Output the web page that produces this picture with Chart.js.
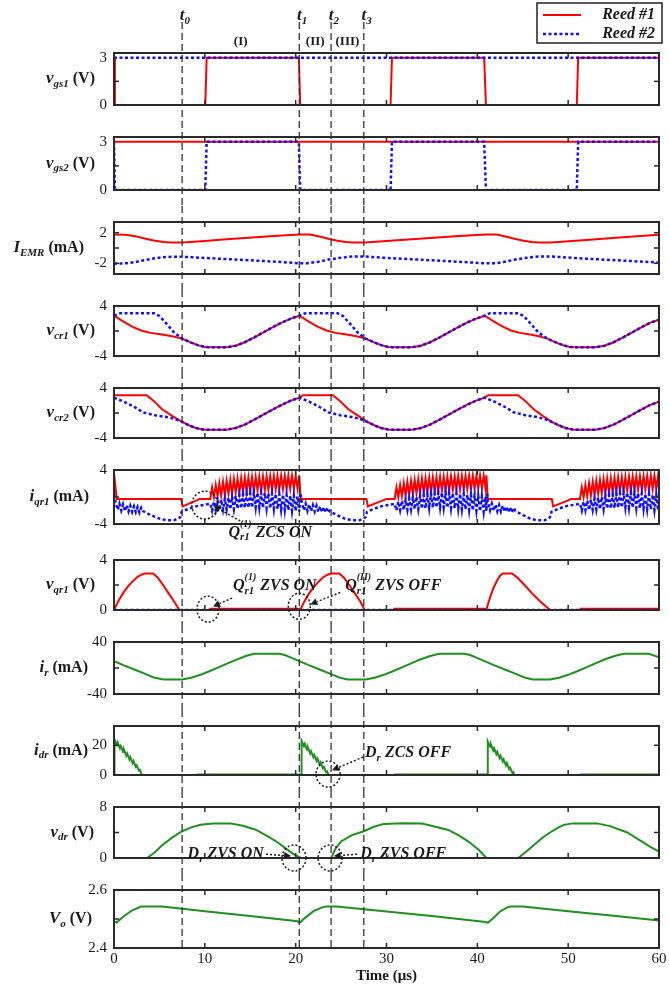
<!DOCTYPE html>
<html>
<head>
<meta charset="utf-8">
<script src="https://cdn.jsdelivr.net/npm/chart.js@4.4.1/dist/chart.umd.min.js"></script>
<style>
  html, body { margin: 0; padding: 0; background: #fff; }
  #wrap { position: relative; width: 669px; height: 990px; overflow: hidden; }
  #wrap canvas { position: absolute; left: 0; }
</style>
</head>
<body>
<div id="wrap"></div>
<script>
// ---- data (time in µs, value in panel units) ----
const T_MARKS = [7.5, 20.4, 23.9, 27.5];
const T_NAMES = ['0', '1', '2', '3'];
const REGIONS = ['(I)', '(II)', '(III)'];
const X_TICKS = [0, 10, 20, 30, 40, 50, 60];
const SERIES_NAMES = ['Reed #1', 'Reed #2'];

const vgs1Red = [[0,3],[0.1,0],[10.05,0],[10.2,3],[20.35,3],[20.5,0],[30.45,0],[30.6,3],[40.75,3],[40.95,0],[50.95,0],[51.1,3],[60,3]];
const vgs1Blue = [[0,3],[60,3]];
const vgs2Red = [[0,3],[60,3]];
const vgs2Blue = [[0,3],[0.1,0],[10.05,0],[10.2,3],[20.35,3],[20.5,0],[30.45,0],[30.6,3],[40.75,3],[40.95,0],[50.95,0],[51.1,3],[60,3]];

const iemrRed = [[0,1.75],[1.3,1.72],[2.5,1.5],[3.5,1.2],[4.5,0.95],[5.5,0.78],[6.3,0.72],[7.5,0.72],[10,0.93],[12,1.1],[14,1.27],[16,1.43],[18,1.6],[20.4,1.78],[21.6,1.75],[22.6,1.5],[23.6,1.2],[24.6,0.95],[25.5,0.78],[26.3,0.72],[27.6,0.72],[30,0.92],[34,1.25],[38,1.58],[40.9,1.78],[42.1,1.75],[43.1,1.5],[44.1,1.2],[45.1,0.95],[46,0.78],[46.8,0.72],[48.1,0.72],[52,1.05],[56,1.4],[60,1.72]];
const iemrBlue = [[0,-2.05],[1.3,-2.0],[2.5,-1.8],[3.5,-1.55],[4.5,-1.35],[5.5,-1.2],[6.3,-1.15],[7.5,-1.15],[10,-1.3],[14,-1.55],[18,-1.8],[20.4,-2.0],[21.3,-2.0],[22.5,-1.8],[23.5,-1.55],[24.5,-1.35],[25.5,-1.2],[26.3,-1.12],[27.7,-1.12],[30,-1.3],[34,-1.55],[38,-1.8],[40.9,-2.0],[42,-2.0],[43,-1.8],[44,-1.55],[45,-1.35],[46,-1.2],[46.8,-1.12],[48.2,-1.12],[52,-1.4],[56,-1.65],[60,-1.9]];

const vcr1Red = [[0,2.45],[1,1.55],[2,0.7],[3,0.08],[4,-0.3],[5.3,-0.57],[6.4,-0.85],[7.5,-1.22],[8.5,-1.85],[9.3,-2.3],[10,-2.55],[10.5,-2.6],[12.4,-2.6],[13.4,-2.35],[14.4,-1.8],[15.4,-1.05],[16.4,-0.25],[17.4,0.55],[18.4,1.3],[19.4,1.95],[20.4,2.45],[21.4,1.55],[22.4,0.7],[23.4,0.08],[24.4,-0.3],[25.6,-0.57],[26.7,-0.85],[27.7,-1.22],[28.7,-1.85],[29.5,-2.3],[30.2,-2.55],[30.7,-2.6],[32.8,-2.6],[33.8,-2.35],[34.8,-1.8],[35.8,-1.05],[36.8,-0.25],[37.8,0.55],[38.8,1.3],[39.8,1.95],[40.8,2.45],[41.8,1.55],[42.8,0.7],[43.7,0.08],[44.7,-0.3],[45.8,-0.57],[46.8,-0.85],[47.7,-1.22],[48.7,-1.85],[49.5,-2.3],[50.2,-2.55],[50.7,-2.6],[53,-2.6],[54,-2.35],[55,-1.8],[56,-1.05],[57,-0.25],[58,0.55],[59,1.3],[60,1.8]];
const vcr1Blue = [[0,2.45],[0.7,2.85],[4.4,2.85],[5.0,2.4],[5.7,1.3],[6.6,-0.2],[7.5,-1.22],[8.5,-1.85],[9.3,-2.3],[10,-2.55],[10.5,-2.6],[12.4,-2.6],[13.4,-2.35],[14.4,-1.8],[15.4,-1.05],[16.4,-0.25],[17.4,0.55],[18.4,1.3],[19.4,1.95],[20.4,2.45],[21.1,2.85],[24.6,2.85],[25.2,2.4],[25.9,1.3],[26.8,-0.2],[27.7,-1.22],[28.7,-1.85],[29.5,-2.3],[30.2,-2.55],[30.7,-2.6],[32.8,-2.6],[33.8,-2.35],[34.8,-1.8],[35.8,-1.05],[36.8,-0.25],[37.8,0.55],[38.8,1.3],[39.8,1.95],[40.8,2.45],[41.4,2.85],[44.5,2.85],[45.1,2.4],[45.8,1.3],[46.7,-0.2],[47.7,-1.22],[48.7,-1.85],[49.5,-2.3],[50.2,-2.55],[50.7,-2.6],[53,-2.6],[54,-2.35],[55,-1.8],[56,-1.05],[57,-0.25],[58,0.55],[59,1.3],[60,1.8]];

const vcr2Red = [[0,2.84],[3.6,2.84],[4.4,1.9],[5.3,0.6],[6.4,-0.45],[7.5,-1.43],[8.3,-2.0],[9,-2.4],[9.8,-2.65],[10.3,-2.67],[12.4,-2.67],[13.4,-2.4],[14.4,-1.85],[15.4,-1.1],[16.4,-0.3],[17.4,0.5],[18.4,1.25],[19.4,1.95],[20.4,2.45],[20.8,2.84],[24.1,2.84],[24.9,1.9],[25.8,0.6],[26.9,-0.45],[27.9,-1.43],[28.7,-2.0],[29.4,-2.4],[30.2,-2.65],[30.7,-2.67],[32.8,-2.67],[33.8,-2.4],[34.8,-1.85],[35.8,-1.1],[36.8,-0.3],[37.8,0.5],[38.8,1.25],[39.8,1.95],[40.8,2.45],[41.2,2.84],[44.5,2.84],[45.3,1.9],[46.2,0.6],[47.2,-0.45],[48.2,-1.43],[49,-2.0],[49.7,-2.4],[50.5,-2.65],[51,-2.67],[53,-2.67],[54,-2.4],[55,-1.85],[56,-1.1],[57,-0.3],[58,0.5],[59,1.25],[60,1.8]];
const vcr2Blue = [[0,2.45],[1.1,1.8],[2.2,1.0],[3.2,0.1],[4.5,-0.35],[5.8,-0.65],[6.7,-0.95],[7.5,-1.43],[8.3,-2.0],[9,-2.4],[9.8,-2.65],[10.3,-2.67],[12.4,-2.67],[13.4,-2.4],[14.4,-1.85],[15.4,-1.1],[16.4,-0.3],[17.4,0.5],[18.4,1.25],[19.4,1.95],[20.4,2.45],[21.5,1.8],[22.6,1.0],[23.6,0.1],[24.9,-0.35],[26.2,-0.65],[27.1,-0.95],[27.9,-1.43],[28.7,-2.0],[29.4,-2.4],[30.2,-2.65],[30.7,-2.67],[32.8,-2.67],[33.8,-2.4],[34.8,-1.85],[35.8,-1.1],[36.8,-0.3],[37.8,0.5],[38.8,1.25],[39.8,1.95],[40.8,2.45],[41.9,1.8],[43,1.0],[44,0.1],[45.3,-0.35],[46.6,-0.65],[47.4,-0.95],[48.2,-1.43],[49,-2.0],[49.7,-2.4],[50.5,-2.65],[51,-2.67],[53,-2.67],[54,-2.4],[55,-1.85],[56,-1.1],[57,-0.3],[58,0.5],[59,1.25],[60,1.8]];

const iqr1Red = [[0,3.6],[0.3,-0.3],[7.4,-0.3],[7.55,-1.4],[9.1,-0.5],[9.4,-0.3],
  [10.6,-0.3],[10.8,1.45],[11.0,-0.05],[11.2,1.8],[11.4,0.1],[11.6,2.05],[11.8,0.2],[12.0,2.25],[12.2,0.3],[12.4,2.4],[12.6,0.45],[12.8,2.55],[13.0,0.5],[13.2,2.65],[13.4,0.6],[13.6,2.75],[13.8,0.65],[14.0,2.8],[14.2,0.72],[14.4,2.88],[14.6,0.78],[14.8,2.92],[15.0,0.85],[15.2,2.96],[15.4,0.88],[15.6,3.0],[15.8,0.92],[16.0,3.02],[16.2,0.96],[16.4,3.05],[16.6,1.0],[16.8,3.08],[17.0,1.04],[17.2,3.1],[17.4,1.08],[17.6,3.12],[17.8,1.1],[18.0,3.14],[18.2,1.13],[18.4,3.15],[18.6,1.16],[18.8,3.17],[19.0,1.2],[19.2,3.18],[19.4,1.22],[19.6,3.19],[19.8,1.25],[20.0,3.2],[20.2,1.28],[20.4,3.2],
  [20.55,-0.3],[27.8,-0.3],[27.95,-1.4],[29.6,-0.5],[30.0,-0.3],
  [30.9,-0.3],[31.1,1.45],[31.3,-0.05],[31.5,1.8],[31.7,0.1],[31.9,2.05],[32.1,0.2],[32.3,2.25],[32.5,0.3],[32.7,2.4],[32.9,0.45],[33.1,2.55],[33.3,0.5],[33.5,2.65],[33.7,0.6],[33.9,2.75],[34.1,0.65],[34.3,2.8],[34.5,0.72],[34.7,2.88],[34.9,0.78],[35.1,2.92],[35.3,0.85],[35.5,2.96],[35.7,0.88],[35.9,3.0],[36.1,0.92],[36.3,3.02],[36.5,0.96],[36.7,3.05],[36.9,1.0],[37.1,3.08],[37.3,1.04],[37.5,3.1],[37.7,1.08],[37.9,3.12],[38.1,1.1],[38.3,3.14],[38.5,1.13],[38.7,3.15],[38.9,1.16],[39.1,3.17],[39.3,1.2],[39.5,3.18],[39.7,1.22],[39.9,3.19],[40.1,1.25],[40.3,3.2],[40.5,1.28],[40.7,3.2],[40.9,1.3],[41.0,3.2],
  [41.15,-0.3],[48.2,-0.3],[48.35,-1.4],[50.0,-0.5],[50.3,-0.3],
  [51.3,-0.3],[51.5,1.45],[51.7,-0.05],[51.9,1.8],[52.1,0.1],[52.3,2.05],[52.5,0.2],[52.7,2.25],[52.9,0.3],[53.1,2.4],[53.3,0.45],[53.5,2.55],[53.7,0.5],[53.9,2.65],[54.1,0.6],[54.3,2.75],[54.5,0.65],[54.7,2.8],[54.9,0.72],[55.1,2.88],[55.3,0.78],[55.5,2.92],[55.7,0.85],[55.9,2.96],[56.1,0.88],[56.3,3.0],[56.5,0.92],[56.7,3.02],[56.9,0.96],[57.1,3.05],[57.3,1.0],[57.5,3.08],[57.7,1.04],[57.9,3.1],[58.1,1.08],[58.3,3.12],[58.5,1.1],[58.7,3.14],[58.9,1.13],[59.1,3.15],[59.3,1.16],[59.5,3.17],[59.7,1.2],[59.9,3.18],[60,1.22]];
const iqr1Blue = [[0,0.4],[0.2,-0.9],[0.4,-1.9],[0.6,-1.0],[0.8,-2.0],[1.0,-1.1],[1.2,-2.1],[1.4,-1.2],[1.6,-2.15],[1.8,-1.3],[2.0,-2.2],[2.2,-1.4],[2.4,-2.25],[2.6,-1.5],[2.8,-2.3],[3.0,-1.6],[3.2,-2.1],
  [4.0,-2.65],[5.0,-3.2],[5.8,-3.45],[6.6,-3.45],[7.3,-3.0],[7.45,-2.2],[8.3,-1.7],[9.1,-1.35],[10.6,-1.0],
  [10.8,-2.0],[11.0,-0.7],[11.2,-1.95],[11.4,-0.55],[11.6,-1.92],[11.8,-0.4],[12.0,-1.88],[12.2,-0.25],[12.4,-1.84],[12.6,-0.1],[12.8,-1.8],[13.0,0.02],[13.2,-1.76],[13.4,0.14],[13.6,-1.72],[13.8,0.25],[14.0,-1.67],[14.2,0.35],[14.4,-1.62],[14.6,0.44],[14.8,-1.58],[15.0,0.52],[15.2,-1.55],[15.4,0.6],[15.6,-1.52],[15.8,0.64],[16.0,-1.54],[16.2,0.62],[16.4,-1.58],[16.6,0.58],[16.8,-1.62],[17.0,0.54],[17.2,-1.67],[17.4,0.5],[17.6,-1.72],[17.8,0.45],[18.0,-1.78],[18.2,0.4],[18.4,-1.84],[18.6,0.34],[18.8,-1.9],[19.0,0.28],[19.2,-1.96],[19.4,0.22],[19.6,-2.02],[19.8,0.16],[20.0,-2.08],[20.2,0.1],[20.4,-2.15],[20.5,0.6],
  [20.7,-0.9],[20.9,-1.95],[21.1,-1.0],[21.3,-2.05],[21.5,-1.1],[21.7,-2.1],[21.9,-1.2],[22.1,-2.15],[22.3,-1.3],[22.5,-2.2],[22.7,-1.4],[22.9,-2.25],[23.1,-1.5],[23.3,-2.3],[23.5,-1.6],[23.7,-2.1],
  [24.5,-2.65],[25.4,-3.2],[26.2,-3.45],[27.0,-3.45],[27.7,-3.0],[27.85,-2.2],[28.7,-1.7],[29.5,-1.35],[30.9,-1.0],
  [31.1,-2.0],[31.3,-0.7],[31.5,-1.95],[31.7,-0.55],[31.9,-1.92],[32.1,-0.4],[32.3,-1.88],[32.5,-0.25],[32.7,-1.84],[32.9,-0.1],[33.1,-1.8],[33.3,0.02],[33.5,-1.76],[33.7,0.14],[33.9,-1.72],[34.1,0.25],[34.3,-1.67],[34.5,0.35],[34.7,-1.62],[34.9,0.44],[35.1,-1.58],[35.3,0.52],[35.5,-1.55],[35.7,0.6],[35.9,-1.52],[36.1,0.64],[36.3,-1.54],[36.5,0.62],[36.7,-1.58],[36.9,0.58],[37.1,-1.62],[37.3,0.54],[37.5,-1.67],[37.7,0.5],[37.9,-1.72],[38.1,0.45],[38.3,-1.78],[38.5,0.4],[38.7,-1.84],[38.9,0.34],[39.1,-1.9],[39.3,0.28],[39.5,-1.96],[39.7,0.22],[39.9,-2.02],[40.1,0.16],[40.3,-2.08],[40.5,0.1],[40.7,-2.15],[40.9,0.05],[41.0,-2.1],[41.05,0.6],
  [41.2,-0.9],[41.4,-1.95],[41.6,-1.0],[41.8,-2.05],[42.0,-1.1],[42.2,-2.1],[42.4,-1.2],[42.6,-2.15],[42.8,-1.3],[43.0,-2.2],[43.2,-1.4],[43.4,-2.25],[43.6,-1.5],[43.8,-2.3],[44.0,-1.6],[44.2,-2.1],
  [45.0,-2.65],[45.8,-3.2],[46.6,-3.45],[47.4,-3.45],[48.0,-3.0],[48.15,-2.2],[49.0,-1.7],[49.8,-1.35],[51.3,-1.0],
  [51.5,-2.0],[51.7,-0.7],[51.9,-1.95],[52.1,-0.55],[52.3,-1.92],[52.5,-0.4],[52.7,-1.88],[52.9,-0.25],[53.1,-1.84],[53.3,-0.1],[53.5,-1.8],[53.7,0.02],[53.9,-1.76],[54.1,0.14],[54.3,-1.72],[54.5,0.25],[54.7,-1.67],[54.9,0.35],[55.1,-1.62],[55.3,0.44],[55.5,-1.58],[55.7,0.52],[55.9,-1.55],[56.1,0.6],[56.3,-1.52],[56.5,0.64],[56.7,-1.54],[56.9,0.62],[57.1,-1.58],[57.3,0.58],[57.5,-1.62],[57.7,0.54],[57.9,-1.67],[58.1,0.5],[58.3,-1.72],[58.5,0.45],[58.7,-1.78],[58.9,0.4],[59.1,-1.84],[59.3,0.34],[59.5,-1.9],[59.7,0.28],[59.9,-1.96],[60,0.2]];

const vqr1Red = [[0,0],[0.5,0.75],[1,1.35],[1.5,1.85],[2,2.25],[2.5,2.6],[3,2.82],[3.4,2.92],[4.3,2.92],[4.8,2.6],[5.4,2.0],[6,1.35],[6.6,0.7],[7.2,0],[10.55,0],[10.6,0.1],[20.4,0.1],[20.5,0],[21,0.75],[21.5,1.35],[22,1.85],[22.5,2.25],[23,2.6],[23.5,2.82],[23.9,2.92],[24.8,2.92],[25.3,2.6],[25.9,2.0],[26.5,1.35],[27.1,0.7],[27.6,0],[30.8,0],[30.85,0.1],[40.95,0.1],[41.0,0.05],[41.4,1.0],[41.8,1.8],[42.2,2.4],[42.5,2.75],[42.8,2.92],[43.8,2.92],[44.4,2.6],[45.2,2.0],[46,1.35],[46.9,0.7],[48,0],[51.3,0],[51.35,0.1],[60,0.1]];
const vqr1Blue = [[0,0],[60,0]];

const irPts = [[0,10.5],[1.1,4],[2.1,-1.5],[3.5,-9.5],[4.4,-14.5],[5.3,-17.2],[5.6,-17.7],[7.5,-17.7],[8.5,-15],[9.5,-10.5],[10.5,-5],[11.5,1],[12.5,7],[13.5,13],[14.5,18.5],[15.4,22],[18.2,22],[18.8,20],[19.5,16],[20.4,10.5],[21.5,4],[22.5,-1.5],[23.9,-9.5],[24.8,-14.5],[25.7,-17.7],[27.7,-17.7],[28.7,-15],[29.7,-10.5],[30.7,-5],[31.7,1],[32.7,7],[33.7,13],[34.8,18.5],[35.8,22],[38.6,22],[39.2,20],[39.9,16],[40.8,10.5],[41.9,4],[42.9,-1.5],[44.3,-9.5],[45.2,-14.5],[46.1,-17.7],[48.0,-17.7],[49,-15],[50,-10.5],[51,-5],[52,1],[53,7],[54,13],[55.1,18.5],[56.1,22],[58.9,22],[60,16.5]];

const idrPts = [[0,0],[0.05,24],[0.3,20.5],[0.4,22],[0.65,18],[0.75,19.5],[1.0,15.5],[1.1,17],[1.35,13],[1.45,14.5],[1.7,10.5],[1.8,12],[2.05,8],[2.15,9.5],[2.4,5.5],[2.5,6.5],[2.75,3],[2.85,3.5],[3.05,0.3],[3.3,0],[9.1,0],[9.2,0.3],[20.5,0.3],[20.6,0],[20.65,23],[20.9,19.5],[21.0,21],[21.25,17],[21.35,18.5],[21.6,14.5],[21.7,16],[21.95,12],[22.05,13.5],[22.3,9.5],[22.4,11],[22.65,7],[22.75,8.5],[23.0,4.5],[23.1,5.5],[23.35,2],[23.45,2.5],[23.65,0],[30.8,0],[30.9,0.3],[41.0,0.3],[41.1,0],[41.15,22.5],[41.4,19],[41.5,20.5],[41.75,16.5],[41.85,18],[42.1,14],[42.2,15.5],[42.45,11.5],[42.55,13],[42.8,9],[42.9,10.5],[43.15,6.5],[43.25,8],[43.5,4],[43.6,5],[43.85,1.5],[43.95,2],[44.1,0],[51.3,0],[51.4,0.3],[60,0.3]];

const vdrPts = [[0,0],[3.65,0],[4.5,0.9],[5.3,2.0],[6.4,3.2],[7.5,4.2],[8.5,4.8],[9.5,5.2],[10.9,5.43],[12.8,5.43],[14.2,5.05],[15.6,4.44],[16.8,3.5],[18,2.47],[19,1.4],[19.9,0.5],[20.6,0],[23.9,0],[24.4,1.5],[25,2.6],[26.2,3.6],[27.5,4.2],[28.6,4.9],[29.7,5.35],[31.8,5.45],[33.9,5.4],[35.4,4.9],[36.8,4.4],[38,3.5],[39.1,2.5],[40.2,1.2],[41,0],[44.5,0],[45.3,0.9],[46.2,2.0],[47.1,3.1],[48,4.0],[48.8,4.7],[49.5,5.2],[50.5,5.43],[53.2,5.43],[54.6,5.0],[56.5,4.0],[58,2.7],[59,1.8],[60,1.0]];

const voPts = [[0,2.492],[0.3,2.488],[1,2.508],[2,2.53],[3,2.543],[5.3,2.543],[10,2.527],[15,2.51],[20.2,2.492],[20.45,2.487],[21,2.503],[22,2.528],[23,2.541],[23.4,2.543],[24.5,2.543],[30,2.526],[35,2.51],[40.9,2.49],[41.15,2.487],[41.7,2.502],[42.5,2.526],[43.3,2.54],[43.7,2.543],[45,2.543],[50,2.527],[55,2.511],[60,2.495]];

// ---- layout ----
const W = 669;
const PLOT_LEFT = 114, PAD_RIGHT = 10;
const BOUNDS = [0, 121, 206, 290, 372, 454, 544, 626, 710, 791, 874, 990];
const BOXES = [[53,106],[136,191],[222,275],[305,358],[387,441],[468,524],[557,611],[642,697],[724,776],[806,860],[889,948]];
const LABEL_RIGHT = [95, 95, 84, 95, 95, 89, 95, 88, 88, 94, 92];
const XAXIS_H = 37;

const SERIF = '"Liberation Serif", "Times New Roman", serif';
const INK = '#1a1a1a';
const STYLE = {
  red:   { borderColor: '#ff0000', borderWidth: 2 },
  blue:  { borderColor: '#1010ff', borderWidth: 2.5, borderDash: [3, 2.5] },
  green: { borderColor: '#1f8f1f', borderWidth: 2 }
};

function lab(main, sub, unit) {
  return [{ t: main, it: true, sz: 17 }, { t: sub, it: true, sub: true, sz: 11 }, { t: ' (' + unit + ')', sz: 16 }];
}
function note(main, sub, sup, rest) {
  const p = [{ t: main, it: true, sz: 16 }, { t: sub, it: true, sub: true, sz: 11 }];
  if (sup) p.push({ t: sup, it: true, sup: true, sz: 10 });
  p.push({ t: rest, it: true, sz: 16 });
  return p;
}

// rich text: main / subscript / superscript stacked over subscript
function rich(ctx, parts, x, y, align) {
  const items = parts.map(pt => {
    const f = (pt.it ? 'italic ' : '') + 'bold ' + (pt.sz || 16) + 'px ' + SERIF;
    ctx.font = f;
    return { pt, f, w: ctx.measureText(pt.t).width };
  });
  let total = 0;
  items.forEach((it, k) => {
    const prev = items[k - 1];
    if (it.pt.sup && prev && prev.pt.sub) total += Math.max(0, it.w - prev.w);
    else total += it.w;
  });
  let cx = align === 'right' ? x - total : align === 'center' ? x - total / 2 : x;
  ctx.textAlign = 'left';
  ctx.textBaseline = 'middle';
  ctx.fillStyle = INK;
  items.forEach((it, k) => {
    const prev = items[k - 1];
    const dy = it.pt.sub ? 5 : it.pt.sup ? -8 : 0;
    let sx = cx;
    if (it.pt.sup && prev && prev.pt.sub) {
      sx = cx - prev.w;
      cx = sx + Math.max(it.w, prev.w);
    } else {
      cx += it.w;
    }
    ctx.font = it.f;
    ctx.fillText(it.pt.t, sx, y + dy);
  });
}

function seg(ctx, x1, y1, x2, y2) {
  ctx.beginPath(); ctx.moveTo(x1, y1); ctx.lineTo(x2, y2); ctx.stroke();
}
function ring(ctx, cx, cy, rx, ry) {
  ctx.save();
  ctx.strokeStyle = INK; ctx.lineWidth = 1.5; ctx.setLineDash([2, 2]);
  ctx.beginPath(); ctx.ellipse(cx, cy, rx, ry, 0, 0, Math.PI * 2); ctx.stroke();
  ctx.restore();
}
function arrow(ctx, x1, y1, x2, y2) {
  ctx.save();
  ctx.strokeStyle = INK; ctx.fillStyle = INK; ctx.lineWidth = 1.5; ctx.setLineDash([2, 2]);
  const a = Math.atan2(y2 - y1, x2 - x1);
  const bx = x2 - 7 * Math.cos(a), by = y2 - 7 * Math.sin(a);
  seg(ctx, x1, y1, bx, by);
  ctx.setLineDash([]);
  ctx.beginPath();
  ctx.moveTo(x2, y2);
  ctx.lineTo(bx + 3.5 * Math.sin(a), by - 3.5 * Math.cos(a));
  ctx.lineTo(bx - 3.5 * Math.sin(a), by + 3.5 * Math.cos(a));
  ctx.closePath(); ctx.fill();
  ctx.restore();
}

// ---- panel specs ----
const panels = [
  { label: lab('v', 'gs1', 'V'), min: 0, max: 3.3, yLabels: [0, 3], marks: [1.5], series: [[vgs1Blue, 'blue'], [vgs1Red, 'red']] },
  { label: lab('v', 'gs2', 'V'), min: 0, max: 3.3, yLabels: [0, 3], marks: [1.5], series: [[vgs2Blue, 'blue'], [vgs2Red, 'red']] },
  { label: lab('I', 'EMR', 'mA'), min: -3.4, max: 3.4, yLabels: [-2, 2], marks: [-2, 0, 2], series: [[iemrBlue, 'blue'], [iemrRed, 'red']] },
  { label: lab('v', 'cr1', 'V'), min: -4, max: 4, yLabels: [-4, 4], marks: [0], series: [[vcr1Blue, 'blue'], [vcr1Red, 'red']] },
  { label: lab('v', 'cr2', 'V'), min: -4, max: 4, yLabels: [-4, 4], marks: [0], series: [[vcr2Blue, 'blue'], [vcr2Red, 'red']] },
  { label: lab('i', 'qr1', 'mA'), min: -4, max: 4, yLabels: [-4, 4], marks: [0], series: [[iqr1Blue, 'blue'], [iqr1Red, 'red']],
    extra(ctx, P) {
      const c = P(10.0, -1.2); ring(ctx, c[0], c[1], 13, 14);
      const a = P(13.9, -3.55), b = P(10.95, -1.35); arrow(ctx, a[0], a[1], b[0], b[1]);
      const t = P(12.6, -5.25); rich(ctx, note('Q', 'r1', '(1)', ' ZCS ON'), t[0], t[1], 'left');
    } },
  { label: lab('v', 'qr1', 'V'), min: 0, max: 4, yLabels: [0, 4], marks: [2], series: [[vqr1Blue, 'blue'], [vqr1Red, 'red']],
    extra(ctx, P) {
      let c = P(10.35, 0.07); ring(ctx, c[0], c[1], 11, 13);
      c = P(20.4, 0.3); ring(ctx, c[0], c[1], 11, 13);
      let a = P(13.0, 0.95), b = P(10.9, 0.28); arrow(ctx, a[0], a[1], b[0], b[1]);
      a = P(24.9, 1.4); b = P(21.6, 0.45); arrow(ctx, a[0], a[1], b[0], b[1]);
      let t = P(13.1, 1.93); rich(ctx, note('Q', 'r1', '(1)', ' ZVS ON'), t[0], t[1], 'left');
      t = P(25.45, 1.93); rich(ctx, note('Q', 'r1', '(II)', ' ZVS OFF'), t[0], t[1], 'left');
    } },
  { label: lab('i', 'r', 'mA'), min: -40, max: 40, yLabels: [-40, 40], marks: [0], series: [[irPts, 'green']] },
  { label: lab('i', 'dr', 'mA'), min: 0, max: 33, yLabels: [0, 20], marks: [20], series: [[idrPts, 'green']],
    extra(ctx, P) {
      const c = P(23.57, 0.6); ring(ctx, c[0], c[1], 12, 13);
      const a = P(27.42, 12.1), b = P(24.0, 3.2); arrow(ctx, a[0], a[1], b[0], b[1]);
      const t = P(27.64, 14.6); rich(ctx, note('D', 'r', null, ' ZCS OFF'), t[0], t[1], 'left');
    } },
  { label: lab('v', 'dr', 'V'), min: 0, max: 8, yLabels: [0, 8], marks: [4], series: [[vdrPts, 'green']],
    extra(ctx, P) {
      let c = P(19.82, 0); ring(ctx, c[0], c[1], 12, 13);
      c = P(23.79, 0); ring(ctx, c[0], c[1], 12, 13);
      let t = P(16.5, 0.6); rich(ctx, note('D', 'r', null, ' ZVS ON'), t[0], t[1], 'right');
      let a = P(16.74, 0.6), b = P(19.5, 0.3); arrow(ctx, a[0], a[1], b[0], b[1]);
      t = P(27.1, 0.6); rich(ctx, note('D', 'r', null, ' ZVS OFF'), t[0], t[1], 'left');
      a = P(26.76, 0.6); b = P(24.2, 0.3); arrow(ctx, a[0], a[1], b[0], b[1]);
    } },
  { label: lab('V', 'o', 'V'), min: 2.4, max: 2.6, yLabels: [2.4, 2.6], marks: [2.5], series: [[voPts, 'green']] }
];

// ---- drawing ----
const wrap = document.getElementById('wrap');

function makeDeco(p, i) {
  const first = i === 0, last = i === panels.length - 1;
  return {
    id: 'deco' + i,
    afterDatasetsDraw(chart) {
      const { ctx, chartArea: a, scales: { x, y } } = chart;
      const P = (t, v) => [x.getPixelForValue(t), y.getPixelForValue(v)];
      ctx.save();
      // frame
      ctx.strokeStyle = '#2a2a2a'; ctx.lineWidth = 2;
      ctx.strokeRect(a.left, a.top, a.right - a.left, a.bottom - a.top);
      // inward tick marks
      ctx.lineWidth = 1.5;
      X_TICKS.slice(1, -1).forEach(v => {
        const px = x.getPixelForValue(v);
        seg(ctx, px, a.top, px, a.top + 5);
        seg(ctx, px, a.bottom, px, a.bottom - 5);
      });
      p.marks.forEach(v => {
        const py = y.getPixelForValue(v);
        seg(ctx, a.left, py, a.left + 5, py);
        seg(ctx, a.right, py, a.right - 5, py);
      });
      // dashed instants t0..t3 running through all panels
      ctx.setLineDash([7, 4]); ctx.strokeStyle = '#333'; ctx.lineWidth = 1.3;
      const y0 = first ? 22 : 0, y1 = last ? a.bottom : chart.height;
      T_MARKS.forEach(t => { const px = x.getPixelForValue(t); seg(ctx, px, y0, px, y1); });
      ctx.setLineDash([]);
      // panel name on the left
      rich(ctx, p.label, LABEL_RIGHT[i], (a.top + a.bottom) / 2, 'right');
      if (p.extra) p.extra(ctx, P);
      if (first) {
        T_MARKS.forEach((t, k) => {
          ctx.font = 'italic bold 17px ' + SERIF;
          const w = ctx.measureText('t').width;
          rich(ctx, [{ t: 't', it: true, sz: 17 }, { t: T_NAMES[k], it: true, sub: true, sz: 11 }], x.getPixelForValue(t) - w / 2, 16, 'left');
        });
        REGIONS.forEach((r, k) => {
          rich(ctx, [{ t: r, sz: 13 }], x.getPixelForValue((T_MARKS[k] + T_MARKS[k + 1]) / 2), 42, 'center');
        });
        // legend
        const lx = 537, ly = 3, lw = 125, lh = 40;
        ctx.fillStyle = '#fff'; ctx.fillRect(lx, ly, lw, lh);
        ctx.strokeStyle = '#222'; ctx.lineWidth = 1.5; ctx.strokeRect(lx, ly, lw, lh);
        const ds = chart.data.datasets;
        [ds[1], ds[0]].forEach((d, k) => {
          const yy = ly + 12 + k * 19;
          ctx.strokeStyle = d.borderColor; ctx.lineWidth = d.borderWidth;
          ctx.setLineDash(d.borderDash || []);
          seg(ctx, lx + 6, yy, lx + 44, yy);
          ctx.setLineDash([]);
          rich(ctx, [{ t: SERIES_NAMES[k], it: true, sz: 16 }], lx + lw - 7, yy, 'right');
        });
      }
      ctx.restore();
    }
  };
}

panels.forEach((p, i) => {
  const last = i === panels.length - 1;
  const top = BOUNDS[i], bot = BOUNDS[i + 1];
  const cv = document.createElement('canvas');
  cv.width = W; cv.height = bot - top;
  cv.style.top = top + 'px';
  wrap.appendChild(cv);
  const box = BOXES[i];
  new Chart(cv, {
    type: 'line',
    data: {
      datasets: p.series.map(([pts, s]) => Object.assign({
        data: pts.map(([x, y]) => ({ x, y })),
        pointRadius: 0, fill: false, tension: 0
      }, STYLE[s]))
    },
    options: {
      responsive: false,
      animation: false,
      events: [],
      layout: { padding: { left: 0, right: PAD_RIGHT, top: box[0] - top, bottom: last ? bot - box[1] - XAXIS_H : bot - box[1] } },
      plugins: { legend: { display: false }, tooltip: { enabled: false } },
      scales: {
        x: {
          type: 'linear', min: 0, max: 60, display: last,
          afterBuildTicks: s => { s.ticks = X_TICKS.map(v => ({ value: v })); },
          afterFit: s => { s.height = last ? XAXIS_H : 0; },
          grid: { display: false, drawTicks: false },
          border: { display: false },
          ticks: { font: { family: SERIF, size: 15 }, color: INK, padding: 2, maxRotation: 0, autoSkip: false },
          title: { display: true, text: 'Time (μs)', font: { family: SERIF, size: 15, weight: 'bold' }, color: INK, padding: { top: 0, bottom: 0 } }
        },
        y: {
          type: 'linear', min: p.min, max: p.max,
          afterFit: s => { s.width = PLOT_LEFT; },
          afterBuildTicks: s => { s.ticks = p.yLabels.map(v => ({ value: v })); },
          grid: { display: false, drawTicks: false },
          border: { display: false },
          ticks: { font: { family: SERIF, size: 15 }, color: INK, padding: 7, autoSkip: false, callback: v => String(v) }
        }
      }
    },
    plugins: [makeDeco(p, i)]
  });
});
</script>
</body>
</html>
